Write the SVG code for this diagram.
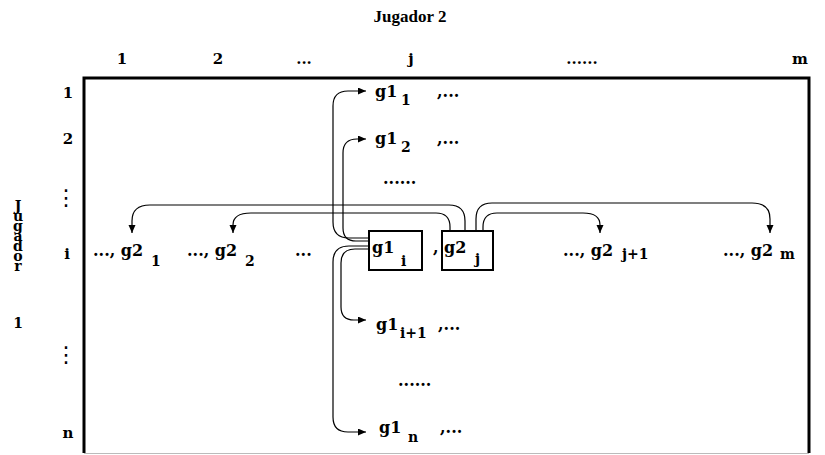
<svg xmlns="http://www.w3.org/2000/svg" width="825" height="455" viewBox="0 0 825 455">
<style>
text { font-family: "DejaVu Serif", "Liberation Serif", serif; font-weight: bold; fill: #000; }
.m { font-size: 16px; }
.s { font-size: 14px; }
.h { font-size: 15px; text-anchor: middle; }
.v { font-size: 14px; writing-mode: vertical-rl; text-orientation: upright; letter-spacing: -6px; }
.v1 { font-size: 14px; text-anchor: middle; }
.title { font-family: "Liberation Serif", serif; font-size: 17px; text-anchor: middle; }
.vd { font-family: "DejaVu Sans", sans-serif; font-weight: normal; font-size: 22px; text-anchor: middle; }
.c { fill: none; stroke: #000; stroke-width: 1.2; marker-end: url(#ah); }
.box { fill: none; stroke: #000; stroke-width: 2; }
</style>
<defs>
<marker id="ah" markerUnits="userSpaceOnUse" markerWidth="9" markerHeight="8" refX="8" refY="3.5" orient="auto">
<path d="M0,0 L8,3.5 L0,7 z" fill="#000"/>
</marker>
</defs>
<rect width="825" height="455" fill="#fff"/>

<g id="frame">
<path d="M84,453 V78 H809 V453" fill="none" stroke="#000" stroke-width="3"/>
<line x1="84" y1="453.5" x2="809" y2="453.5" stroke="#bbb" stroke-width="1"/>
</g>

<g id="titles">
<text class="title" x="410" y="22">Jugador 2</text>
<text class="v" x="18" y="198">Jugador</text>
<text class="v1" x="18" y="328">1</text>
</g>

<g id="col-headers">
<text class="h" x="122" y="64">1</text>
<text class="h" x="218" y="64">2</text>
<text class="h" x="304" y="64">...</text>
<text class="h" x="411" y="64">j</text>
<text class="h" x="582" y="64">......</text>
<text class="h" x="800" y="64">m</text>
</g>

<g id="row-headers">
<text class="h" x="68" y="98">1</text>
<text class="h" x="68" y="144">2</text>
<text class="vd" x="66" y="205">⋮</text>
<text class="h" x="67" y="259">i</text>
<text class="vd" x="66" y="362">⋮</text>
<text class="h" x="68" y="438">n</text>
</g>

<g id="g1-1">
<text class="m" x="375" y="97">g1</text>
<text class="s" x="401" y="105">1</text>
<text class="m" x="437" y="97">,...</text>
</g>
<g id="g1-2">
<text class="m" x="375" y="144">g1</text>
<text class="s" x="401" y="152">2</text>
<text class="m" x="437" y="144">,...</text>
</g>
<g id="dots-top">
<text class="m" x="383" y="184">......</text>
</g>

<g id="g2-1">
<text class="m" x="93" y="256">..., g2</text>
<text class="s" x="151" y="266">1</text>
</g>
<g id="g2-2">
<text class="m" x="187" y="256">..., g2</text>
<text class="s" x="245" y="266">2</text>
</g>
<g id="dots-row">
<text class="m" x="295" y="256">...</text>
</g>

<g id="g1-i">
<rect class="box" x="369" y="231" width="53" height="39"/>
<text class="m" x="372" y="253">g1</text>
<text class="s" x="401" y="266">i</text>
</g>
<g id="comma">
<text class="m" x="433" y="253">,</text>
</g>
<g id="g2-j">
<rect class="box" x="442" y="231" width="51" height="39"/>
<text class="m" x="444" y="253">g2</text>
<text class="s" x="475" y="264">j</text>
</g>

<g id="g2-j1">
<text class="m" x="563" y="256">..., g2</text>
<text class="s" x="622" y="259">j+1</text>
</g>
<g id="g2-m">
<text class="m" x="723" y="256">..., g2</text>
<text class="s" x="780" y="259">m</text>
</g>

<g id="g1-i1">
<text class="m" x="376" y="330">g1</text>
<text class="s" x="400" y="338">i+1</text>
<text class="m" x="438" y="330">,...</text>
</g>
<g id="dots-bottom">
<text class="m" x="398" y="386">......</text>
</g>
<g id="g1-n">
<text class="m" x="379" y="433">g1</text>
<text class="s" x="408" y="442">n</text>
<text class="m" x="440" y="433">,...</text>
</g>

<g id="connectors">
<path class="c" d="M369,238 H349 Q333,238 333,222 V106 Q333,91 348,91 H366"/>
<path class="c" d="M369,241 H356 Q343,241 343,228 V153 Q343,139 357,139 H366"/>
<path class="c" d="M369,246 H349 Q333,246 333,262 V417 Q333,432 348,432 H366"/>
<path class="c" d="M369,249 H355 Q341,249 341,263 V307 Q341,320 354,320 H366"/>
<path class="c" d="M465,231 V221 Q465,205 449,205 H150 Q132,205 132,221 V233"/>
<path class="c" d="M450,231 V227 Q450,213 436,213 H251 Q233,213 233,225 V233"/>
<path class="c" d="M476,231 V219 Q476,203 492,203 H752 Q770,203 770,219 V233"/>
<path class="c" d="M483,231 V227 Q483,213 497,213 H583 Q600,213 600,225 V233"/>
</g>
</svg>
